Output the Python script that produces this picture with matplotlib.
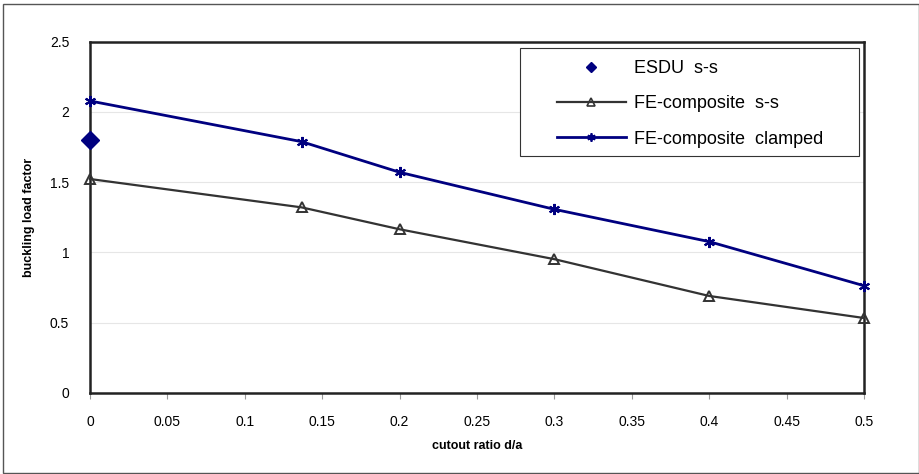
import matplotlib
matplotlib.use("Agg")
import matplotlib.pyplot as plt
from matplotlib.patches import Rectangle
from matplotlib.lines import Line2D

plt.rcParams['font.family'] = ['Liberation Sans', 'DejaVu Sans']

# data
cutout = [0, 0.1367, 0.2, 0.3, 0.4, 0.5]
fe_ss = [1.522, 1.320, 1.164, 0.951, 0.689, 0.532]
fe_clamped = [2.078, 1.788, 1.570, 1.306, 1.076, 0.762]
esdu_x = [0]
esdu_y = [1.798]
x_ticks = [0, 0.05, 0.1, 0.15, 0.2, 0.25, 0.3, 0.35, 0.4, 0.45, 0.5]
y_ticks = [0, 0.5, 1, 1.5, 2, 2.5]
labels = ['ESDU  s-s', 'FE-composite  s-s', 'FE-composite  clamped']

NAVY = '#000080'
GREY = '#333333'

W, H = 920, 474
fig = plt.figure(figsize=(W / 100, H / 100), dpi=100)

# outer frame around the whole chart
fig.patches.append(Rectangle((3 / W, 1 / H), 916 / W, 469 / H, transform=fig.transFigure,
                             fill=False, edgecolor='#555555', linewidth=1.0))

ax = fig.add_axes([90 / W, (H - 392.7) / H, 774 / W, 351 / H])

ax.plot(esdu_x, esdu_y, linestyle='none', marker='D', markersize=9.5,
        color=NAVY, clip_on=False, zorder=5)
ax.plot(cutout, fe_ss, color=GREY, linewidth=1.6, marker='^', markersize=7.5,
        markerfacecolor='none', markeredgewidth=1.4, clip_on=False, zorder=4)
ax.plot(cutout, fe_clamped, color=NAVY, linewidth=2.0, marker=(6, 2, 0), markersize=8,
        markeredgewidth=1.5, clip_on=False, zorder=4)

ax.set_xlim(0, 0.5)
ax.set_ylim(0, 2.5)
ax.set_xticks(x_ticks)
ax.set_xticklabels([f'{v:g}' for v in x_ticks])
ax.set_yticks(y_ticks)
ax.set_yticklabels([f'{v:g}' for v in y_ticks])
ax.tick_params(axis='x', direction='out', length=4, pad=12, labelsize=10, color='#999999')
ax.tick_params(axis='y', length=0, pad=15, labelsize=10)
ax.grid(axis='y', color='#e6e6e6', linewidth=0.8)
ax.set_axisbelow(True)

for s in ax.spines.values():
    s.set_linewidth(1.8)
    s.set_color('#222222')

ax.set_xlabel('cutout ratio d/a', fontsize=9, fontweight='bold', labelpad=8)
ax.set_ylabel('buckling load factor', fontsize=9, fontweight='bold', labelpad=11)

# legend: smaller markers than the plot, frame drawn separately
handles = [
    Line2D([], [], linestyle='none', marker='D', markersize=5, color=NAVY),
    Line2D([], [], color=GREY, linewidth=1.6, marker='^', markersize=5.5,
           markerfacecolor='none', markeredgewidth=1.2),
    Line2D([], [], color=NAVY, linewidth=2.0, marker=(6, 2, 0), markersize=6,
           markeredgewidth=1.3),
]
leg = ax.legend(handles, labels, loc='center left',
                bbox_to_anchor=((557 - 90) / 774, (392.7 - 104) / 351),
                fontsize=13, frameon=False, borderpad=0, borderaxespad=0,
                labelspacing=1.0, handlelength=3.8, handletextpad=0.45)
ax.add_patch(Rectangle(((520 - 90) / 774, (392.7 - 156) / 351), 339 / 774, 108 / 351,
                       transform=ax.transAxes, facecolor='white', edgecolor=GREY,
                       linewidth=0.8, zorder=3))
leg.set_zorder(6)

fig.savefig('out.png', dpi=100)
